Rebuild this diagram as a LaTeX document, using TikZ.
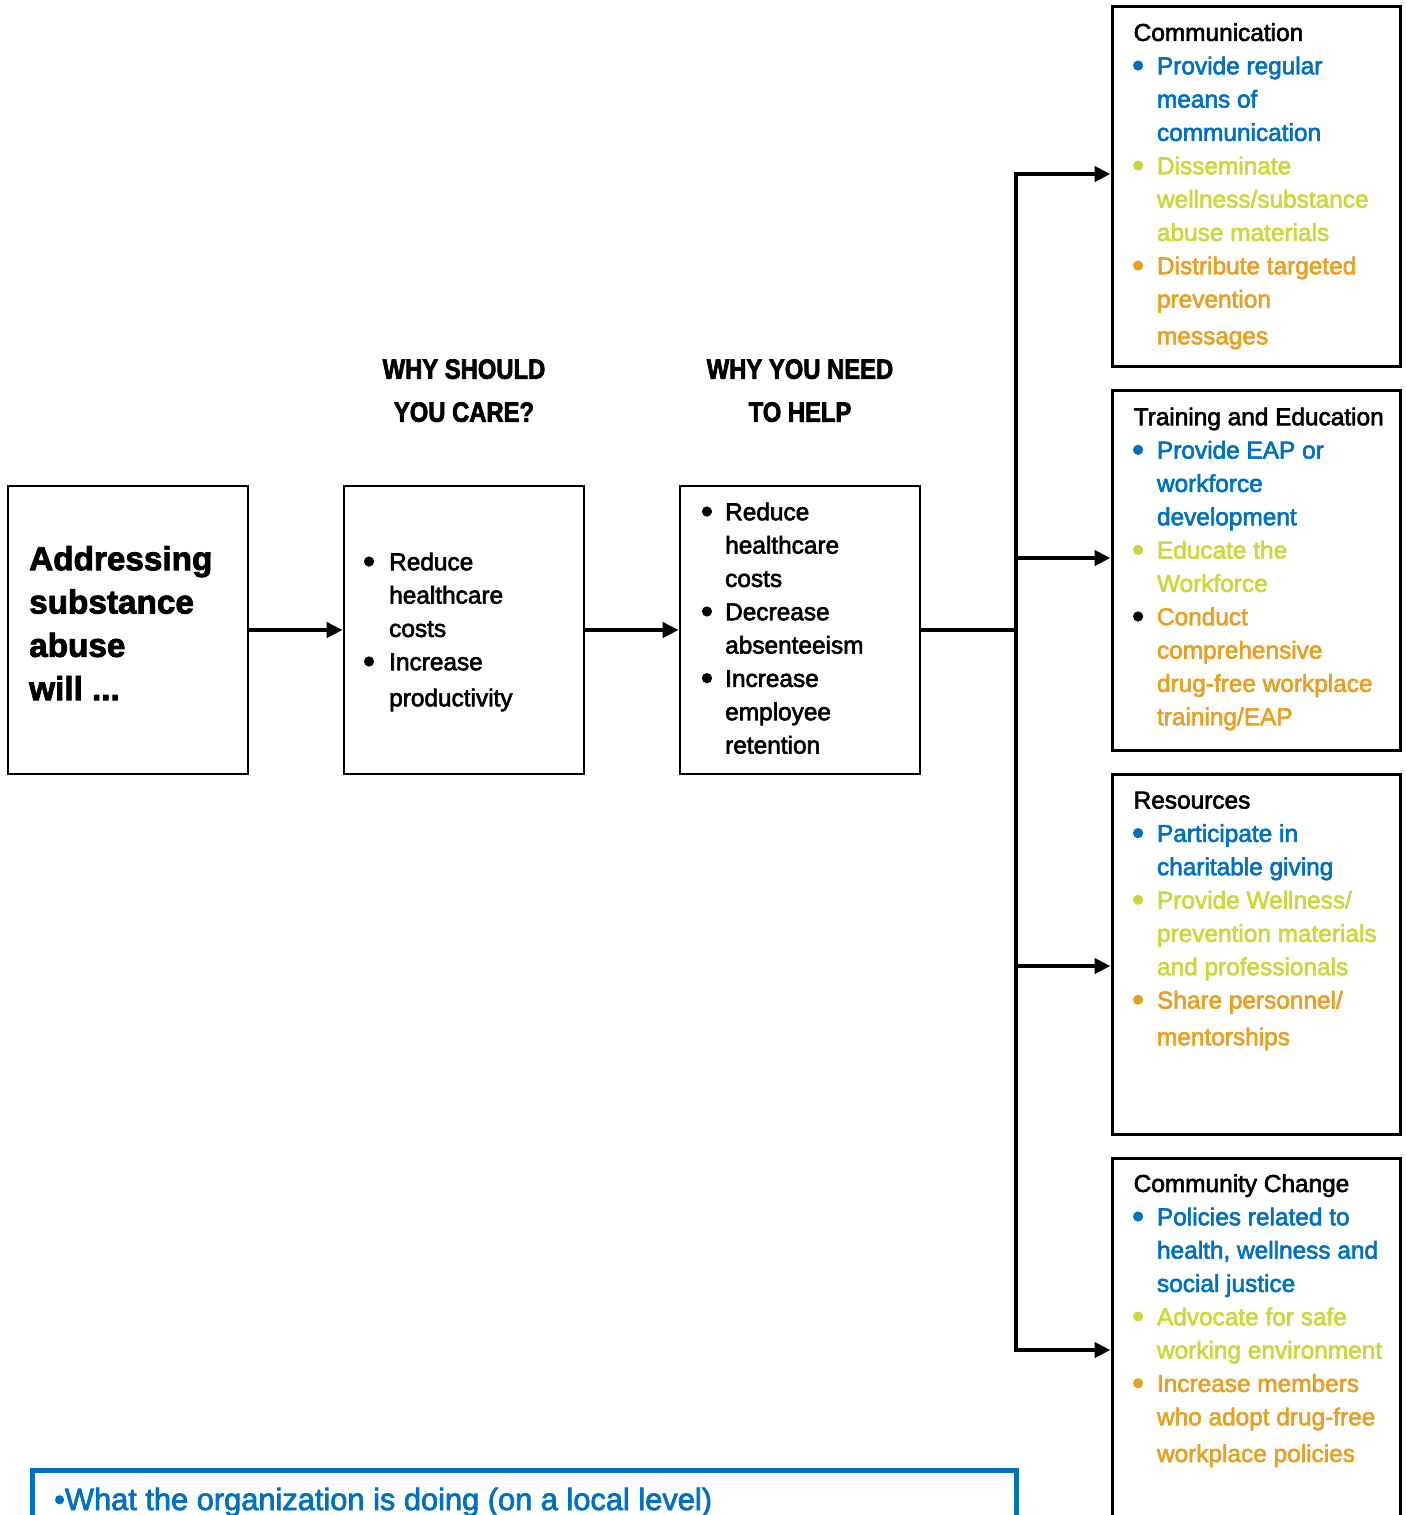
\documentclass[tikz,border=0pt]{standalone}
\usepackage{fontspec}
\setmainfont{Liberation Sans}[RawFeature={embolden=2.5}]
\newfontfamily\hdrfont{Liberation Sans}[FakeStretch=0.85,RawFeature={embolden=2.5}]
\usetikzlibrary{arrows.meta}
\definecolor{cblue}{RGB}{0,112,192}
\definecolor{clime}{RGB}{202,216,60}
\definecolor{corange}{RGB}{231,160,36}
\newlength\bulw
\newcommand\bigbul{\hspace*{-1.6pt}\raisebox{-2.6pt}{\scalebox{1.4}{\textbullet}}}
\newcommand\bi[3]{\textcolor{#1}{\makebox[\bulw][l]{\bigbul}}\textcolor{#2}{#3}}
\newcommand\ci[2]{\hspace*{\bulw}\textcolor{#1}{#2}}
\begin{document}
\begin{tikzpicture}[x=1pt,y=-1pt,
  box/.style={draw,line width=2.7pt,inner sep=0pt},
  rbox/.style={draw,line width=3pt,inner sep=0pt,minimum width=288pt},
  conn/.style={line width=4pt},
  arr/.style={line width=4pt,-{Triangle[length=16pt,width=15pt]}},
  body/.style={anchor=north west,inner sep=0pt,align=left,font=\fontsize{24.4}{33.33}\selectfont},
  hdr/.style={anchor=north,inner sep=0pt,align=center,font=\hdrfont\bfseries\fontsize{28}{43}\selectfont}
]
\useasboundingbox (0,0) rectangle (1406,1515);

% main boxes
\node[box,minimum width=240pt,minimum height=288pt] (A) at (128,630) {};
\node[box,minimum width=240pt,minimum height=288pt] (B) at (464,630) {};
\node[box,minimum width=240pt,minimum height=288pt] (C) at (800,630) {};

% right boxes
\node[rbox,minimum height=360pt] (R1) at (1256,186) {};
\node[rbox,minimum height=360pt] (R2) at (1256,570) {};
\node[rbox,minimum height=360pt] (R3) at (1256,954) {};
\node[rbox,minimum height=382pt] (R4) at (1256,1349) {};

% bottom blue box
\draw[cblue,line width=5pt] (32,1540) -- (32,1470) -- (1016,1470) -- (1016,1540);

% headers
\node[hdr] (h1) at (464,348.5) {\strut WHY SHOULD\\YOU CARE?};
\node[hdr] (h2) at (800,348.5) {\strut WHY YOU NEED\\TO HELP};

% box A text
\node[anchor=north west,inner sep=0pt,align=left,font=\bfseries\fontsize{33.3}{43.3}\selectfont] (At) at (29,539.7)
  {\strut Addressing\\substance\\abuse\\will ...};

% box B text
\setlength\bulw{24.5pt}
\node[body] (Bt) at (364.5,546.7)
  {\strut\bi{black}{black}{Reduce}\\
   \ci{black}{healthcare}\\
   \ci{black}{costs}\\
   \bi{black}{black}{Increase}\\[2.7pt]
   \ci{black}{productivity}};

% box C text
\setlength\bulw{22.6pt}
\node[body] (Ct) at (702.4,496.7)
  {\strut\bi{black}{black}{Reduce}\\
   \ci{black}{healthcare}\\
   \ci{black}{costs}\\
   \bi{black}{black}{Decrease}\\
   \ci{black}{absenteeism}\\
   \bi{black}{black}{Increase}\\
   \ci{black}{employee}\\
   \ci{black}{retention}};

% right boxes text
\setlength\bulw{23.3pt}
\node[body] (R1t) at (1133.5,17.4)
  {\strut Communication\\
   \bi{cblue}{cblue}{Provide regular}\\
   \ci{cblue}{means of}\\
   \ci{cblue}{communication}\\
   \bi{clime}{clime}{Disseminate}\\
   \ci{clime}{wellness/substance}\\
   \ci{clime}{abuse materials}\\
   \bi{corange}{corange}{Distribute targeted}\\
   \ci{corange}{prevention}\\[3.4pt]
   \ci{corange}{messages}};

\node[body] (R2t) at (1133.5,401.7)
  {\strut Training and Education\\
   \bi{cblue}{cblue}{Provide EAP or}\\
   \ci{cblue}{workforce}\\
   \ci{cblue}{development}\\
   \bi{clime}{clime}{Educate the}\\
   \ci{clime}{Workforce}\\
   \bi{black}{corange}{Conduct}\\
   \ci{corange}{comprehensive}\\
   \ci{corange}{drug-free workplace}\\
   \ci{corange}{training/EAP}};

\node[body] (R3t) at (1133.5,785)
  {\strut Resources\\
   \bi{cblue}{cblue}{Participate in}\\
   \ci{cblue}{charitable giving}\\
   \bi{clime}{clime}{Provide Wellness/}\\
   \ci{clime}{prevention materials}\\
   \ci{clime}{and professionals}\\
   \bi{corange}{corange}{Share personnel/}\\[3.4pt]
   \ci{corange}{mentorships}};

\node[body] (R4t) at (1133.5,1168.4)
  {\strut Community Change\\
   \bi{cblue}{cblue}{Policies related to}\\
   \ci{cblue}{health, wellness and}\\
   \ci{cblue}{social justice}\\
   \bi{clime}{clime}{Advocate for safe}\\
   \ci{clime}{working environment}\\
   \bi{corange}{corange}{Increase members}\\
   \ci{corange}{who adopt drug-free}\\[3.4pt]
   \ci{corange}{workplace policies}};

% bottom text
\node[anchor=base west,inner sep=0pt,text=cblue,font=\fontsize{30.8}{36}\selectfont] (bt) at (54,1510)
  {\textbullet What the organization is doing (on a local level)};

% connectors
\coordinate (bm) at (1016,630);
\coordinate (b1) at (1016,174);
\coordinate (b2) at (1016,558);
\coordinate (b3) at (1016,966);
\coordinate (b4) at (1016,1350);
\draw[arr] (A.east) -- (B.west);
\draw[arr] (B.east) -- (C.west);
\draw[conn] (C.east) -- (bm);
\draw[conn,line cap=rect] (b1) -- (b4);
\draw[arr] (b1) -- (b1 -| R1.west);
\draw[arr] (b2) -- (b2 -| R2.west);
\draw[arr] (b3) -- (b3 -| R3.west);
\draw[arr] (b4) -- (b4 -| R4.west);
\end{tikzpicture}
\end{document}
